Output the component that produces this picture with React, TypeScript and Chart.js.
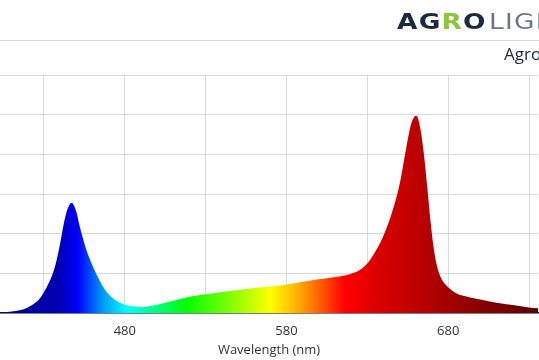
import React, { useEffect, useRef } from "react";
import { Chart, registerables } from "chart.js";

Chart.register(...registerables);

// Wavelength (nm) and relative intensity
const WAVELENGTHS = [400, 405, 410, 415, 420, 425, 428, 431, 434, 437, 440, 442, 444, 446, 447, 448, 450, 452, 454, 457, 460, 463, 466, 470, 475, 480, 485, 490, 495, 500, 505, 510, 515, 520, 525, 530, 540, 550, 560, 570, 580, 590, 600, 610, 615, 620, 625, 630, 635, 640, 645, 650, 654, 657, 659, 660, 661, 663, 665, 667, 669, 671, 673, 676, 680, 685, 690, 700, 710, 720, 730, 740];
const INTENSITY = [0.01, 0.02, 0.04, 0.07, 0.14, 0.27, 0.4, 0.6, 0.85, 1.2, 1.75, 2.2, 2.55, 2.74, 2.77, 2.75, 2.55, 2.2, 1.9, 1.5, 1.2, 0.93, 0.7, 0.47, 0.3, 0.21, 0.17, 0.15, 0.17, 0.21, 0.26, 0.31, 0.36, 0.41, 0.44, 0.47, 0.53, 0.58, 0.63, 0.67, 0.72, 0.79, 0.85, 0.91, 0.94, 0.99, 1.08, 1.25, 1.55, 1.95, 2.5, 3.25, 4.15, 4.75, 4.94, 4.97, 4.94, 4.6, 4.0, 3.2, 2.35, 1.65, 1.2, 0.85, 0.65, 0.5, 0.43, 0.34, 0.26, 0.2, 0.14, 0.1];

const X_GRID = [430, 480, 530, 580, 630, 680, 730];
const X_LABELS = [480, 580, 680];
const X_MIN = 402.8;
const X_MAX = 735.6;
const Y_MIN = 0;
const Y_MAX = 6;

// spectrum colour stops (nm -> colour)
const GRAD_NM = [403, 440, 451, 466, 481, 518, 545, 570, 588, 603, 616, 640, 665, 690, 736];
const GRAD_COLORS = ["#00008c", "#0000b4", "#0000ff", "#0096ff", "#00ffff", "#00ff00", "#80ff00", "#ffff00", "#ffaa00", "#ff5000", "#ff0000", "#d40000", "#b80000", "#960000", "#5a0000"];

export default function App() {
  const ref = useRef<HTMLCanvasElement | null>(null);

  useEffect(() => {
    if (!ref.current) return;
    const chart = new Chart(ref.current, {
      type: "line",
      data: {
        datasets: [
          {
            data: WAVELENGTHS.map((x, i) => ({ x, y: INTENSITY[i] })),
            fill: "origin",
            borderWidth: 0,
            borderColor: "rgba(0,0,0,0)",
            pointRadius: 0,
            cubicInterpolationMode: "monotone",
            backgroundColor: (ctx: any) => {
              const c = ctx.chart;
              const area = c.chartArea;
              const xs = c.scales.x;
              if (!area || !xs) return "#0000ff";
              const g = c.ctx.createLinearGradient(area.left, 0, area.right, 0);
              const w = area.right - area.left;
              GRAD_NM.forEach((nm, i) => {
                const p = (xs.getPixelForValue(nm) - area.left) / w;
                g.addColorStop(Math.min(1, Math.max(0, p)), GRAD_COLORS[i]);
              });
              return g;
            },
          },
        ],
      },
      options: {
        animation: false,
        responsive: false,
        maintainAspectRatio: false,
        layout: { padding: { top: 75, left: 0, right: 0, bottom: 0 } },
        plugins: { legend: { display: false }, tooltip: { enabled: false } },
        scales: {
          x: {
            type: "linear",
            min: X_MIN,
            max: X_MAX,
            afterBuildTicks: (s: any) => {
              s.ticks = X_GRID.map((v) => ({ value: v }));
            },
            afterFit: (s: any) => {
              s.height = 47;
            },
            ticks: {
              autoSkip: false,
              maxRotation: 0,
              padding: 10,
              color: "#333333",
              font: { family: "'Open Sans'", size: 13 },
              callback: (v: any) => (X_LABELS.includes(Number(v)) ? String(v) : ""),
            },
            grid: { color: "#d9d9d9", lineWidth: 1, drawTicks: false },
            border: { display: true, color: "#1a2638", width: 1.5 },
            title: {
              display: true,
              text: "Wavelength (nm)",
              color: "#333333",
              font: { family: "'Open Sans'", size: 13 },
              padding: { top: 0, bottom: 2 },
            },
          },
          y: {
            min: Y_MIN,
            max: Y_MAX,
            ticks: { display: false, stepSize: 1 },
            grid: { color: "#d9d9d9", lineWidth: 1, drawTicks: false },
            border: { display: false },
          },
        },
      },
    });
    return () => chart.destroy();
  }, []);

  return (
    <div
      style={{
        position: "fixed",
        left: 0,
        top: 0,
        width: 539,
        height: 360,
        overflow: "hidden",
        background: "#ffffff",
        fontFamily: "'Open Sans', sans-serif",
      }}
    >
      <canvas ref={ref} width={539} height={360} style={{ position: "absolute", left: 0, top: 0, width: 539, height: 360 }} />
      <div style={{ position: "absolute", left: 0, top: 40, width: 539, height: 0, borderTop: "1px solid #d9d9d9" }} />
      <div
        style={{
          position: "absolute",
          left: 397,
          top: 10,
          whiteSpace: "nowrap",
          fontFamily: "'DejaVu Sans', sans-serif",
          fontSize: 22,
          lineHeight: "24px",
          transform: "scaleX(1.2)",
          transformOrigin: "left top",
        }}
      >
        <span style={{ fontWeight: 700, color: "#1b2a3f", letterSpacing: 1 }}>AG</span>
        <span style={{ fontWeight: 700, color: "#8cc63f", letterSpacing: 1 }}>R</span>
        <span style={{ fontWeight: 700, color: "#1b2a3f", letterSpacing: 3 }}>O</span>
        <span style={{ fontWeight: 400, color: "#6c7784", letterSpacing: 1, fontFamily: "'DejaVu Sans ExtraLight', 'DejaVu Sans', sans-serif" }}>LIGHT</span>
      </div>
      <div
        style={{
          position: "absolute",
          left: 504,
          top: 43,
          whiteSpace: "nowrap",
          fontSize: 17,
          lineHeight: "22px",
          color: "#1b2a3f",
        }}
      >
        Agrolight
      </div>
    </div>
  );
}
